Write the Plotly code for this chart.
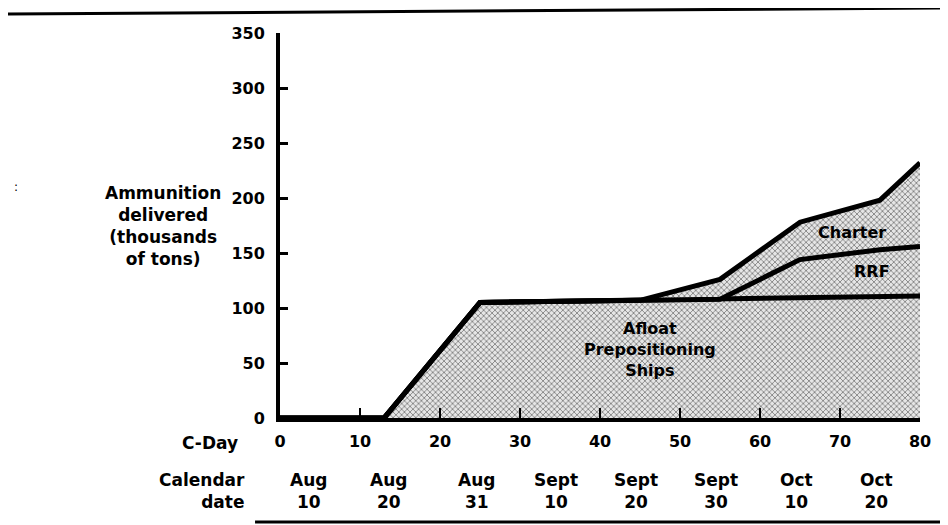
import plotly.graph_objects as go

# C-Day positions where the curves change slope
c_day = [0, 13, 25, 45, 55, 65, 75, 80]
# thousands of tons delivered, stacked: afloat, then RRF, then charter on top
afloat = [0, 0, 105, 107, 108, 109, 110, 111]
rrf = [0, 0, 0, 0, 0, 35, 43, 45]
charter = [0, 0, 0, 0, 18, 34, 45, 76]

x_ticks = [0, 10, 20, 30, 40, 50, 60, 70, 80]
y_ticks = [0, 50, 100, 150, 200, 250, 300, 350]
cal_cday = [3, 13, 24, 34, 44, 54, 64, 74]
cal_text = ["Aug<br>10", "Aug<br>20", "Aug<br>31", "Sept<br>10", "Sept<br>20",
            "Sept<br>30", "Oct<br>10", "Oct<br>20"]

FONT = "DejaVu Sans"
pattern = dict(shape="x", fgcolor="#222222", bgcolor="#e6e6e6", size=4, solidity=0.4)

fig = go.Figure()
for name, vals in [("Afloat", afloat), ("RRF", rrf), ("Charter", charter)]:
    fig.add_trace(go.Scatter(
        x=c_day, y=vals, name=name, mode="lines", stackgroup="one",
        line=dict(color="black", width=5),
        fillpattern=pattern, hoverinfo="skip",
    ))

ann_font = dict(family=FONT, size=16, color="black", weight="bold")
annotations = [
    dict(x=71.5, y=169, text="Charter"),
    dict(x=74, y=133, text="RRF"),
    dict(x=46.3, y=62, text="Afloat<br>Prepositioning<br>Ships"),
]
for a in annotations:
    fig.add_annotation(showarrow=False, xref="x", yref="y", font=ann_font, **a)

fig.add_annotation(text="Ammunition<br>delivered<br>(thousands<br>of tons)",
                   xref="paper", yref="y", x=-0.183, y=175, showarrow=False,
                   xanchor="center", yanchor="middle", font=dict(ann_font, size=17))
fig.add_annotation(text="C-Day", xref="paper", yref="paper", x=-0.0625, y=-0.065,
                   xanchor="right", yanchor="middle", showarrow=False,
                   font=dict(ann_font, size=17))
fig.add_annotation(text="Calendar<br>date", xref="paper", yref="paper", x=-0.052, y=-0.19,
                   xanchor="right", yanchor="middle", align="right", showarrow=False,
                   font=dict(ann_font, size=17))
for cx, t in zip(cal_cday, cal_text):
    fig.add_annotation(text=t, x=cx, xref="x", yref="paper", y=-0.19, xshift=4,
                       xanchor="center", yanchor="middle", showarrow=False,
                       font=dict(ann_font, size=17))
fig.add_annotation(text=":", xref="paper", yref="paper", x=-0.418, y=0.6,
                   showarrow=False, font=dict(family=FONT, size=12, color="black"))

# rules across the scanned page
fig.add_shape(type="line", xref="paper", yref="paper", x0=-0.4375, x1=1.04375,
              y0=1.049, y1=1.065, line=dict(color="black", width=3))
fig.add_shape(type="line", xref="paper", yref="paper", x0=-0.039, x1=1.04375,
              y0=-0.27, y1=-0.27, line=dict(color="black", width=3))

fig.update_xaxes(range=[0, 80], tickvals=x_ticks, ticks="inside", ticklen=10, tickwidth=2,
                 tickcolor="black", showline=True, linewidth=4, linecolor="black",
                 showgrid=False, zeroline=False, ticklabelstandoff=6,
                 tickfont=dict(family=FONT, size=16, color="black", weight="bold"))
fig.update_yaxes(range=[0, 350], tickvals=y_ticks, ticks="inside", ticklen=8, tickwidth=3,
                 tickcolor="black", showline=True, linewidth=4, linecolor="black",
                 showgrid=False, zeroline=False, ticklabelstandoff=8,
                 tickfont=dict(family=FONT, size=16, color="black", weight="bold"))

# the page body adds an 8px margin, so the figure is 8px smaller each way
fig.update_layout(width=940, height=517, showlegend=False,
                  margin=dict(l=272, r=28, t=25, b=107),
                  paper_bgcolor="white", plot_bgcolor="white")

fig.write_html("out.html")
